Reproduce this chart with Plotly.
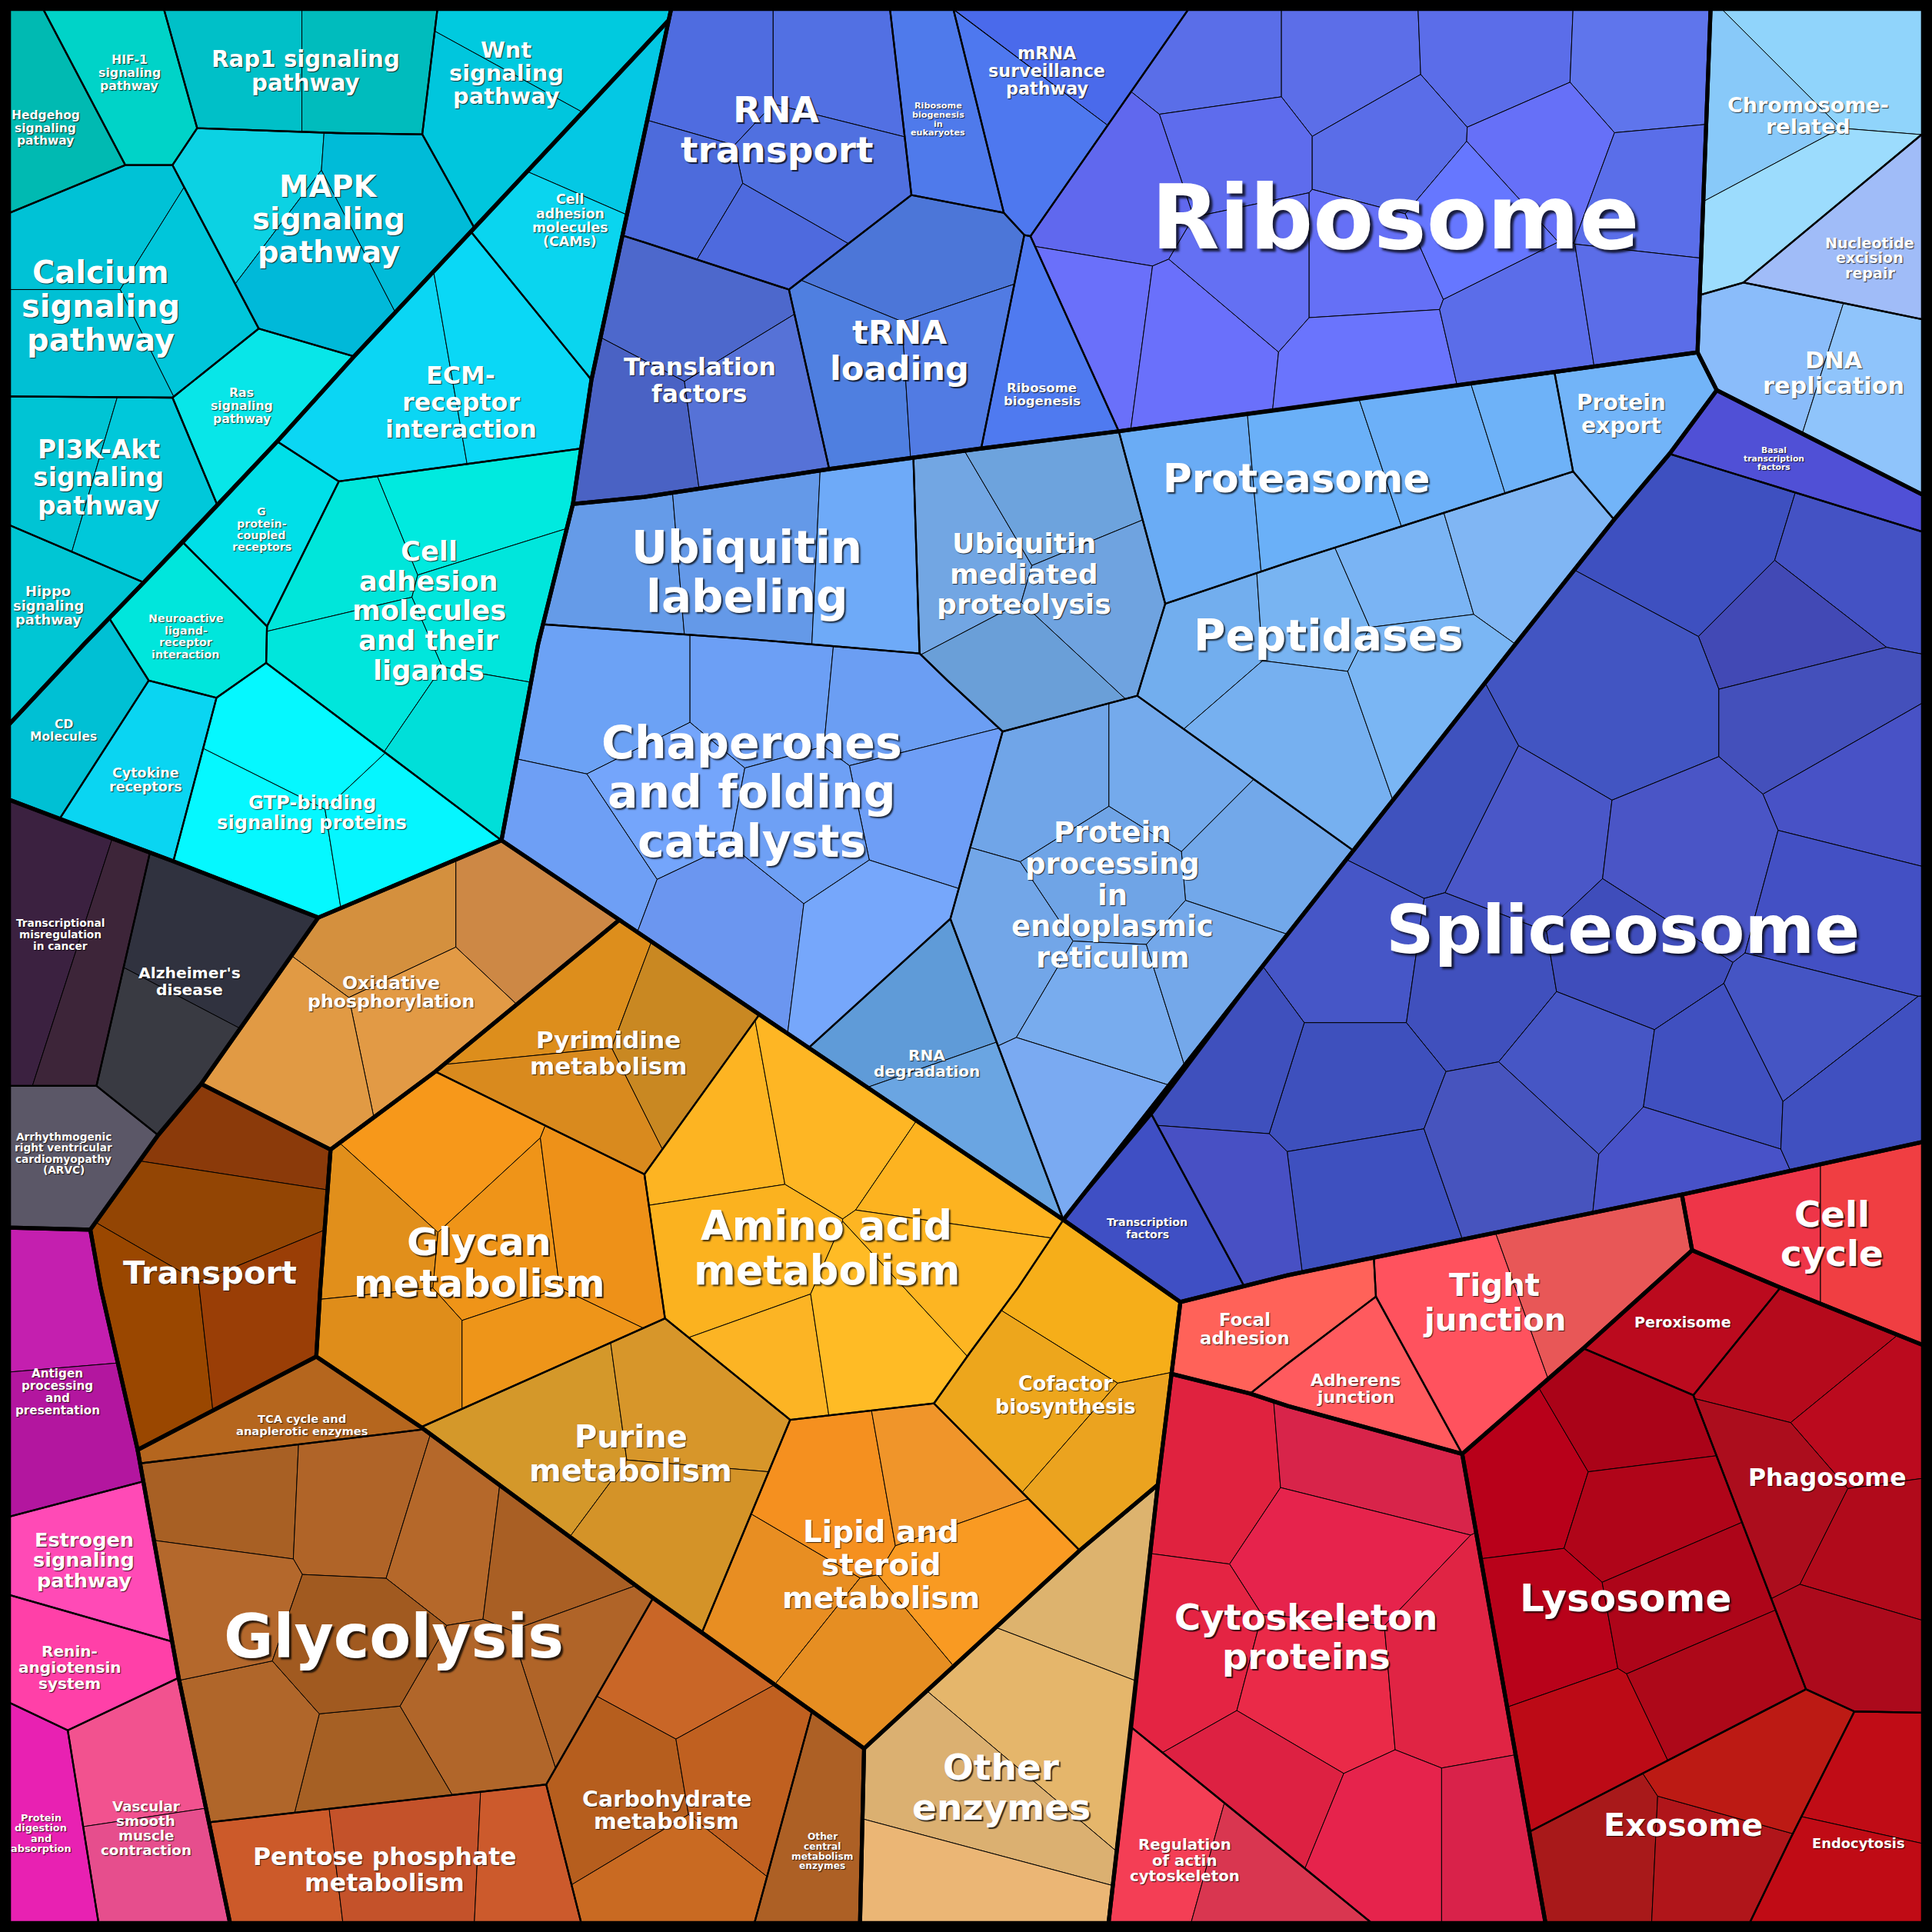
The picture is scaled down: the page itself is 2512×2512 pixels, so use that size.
import plotly.graph_objects as go

L0, L1 = 7.3, 1560.7

# ---------------- regions (polygons in picture units, 0..1568) ----------------
POLYGONS = {
 "Hedgehog": [(L0,L0),(35,L0),(101.7,134),(L0,173)],
 "HIF1": [(35,L0),(133,L0),(160,104),(140,134),(101.7,134)],
 "Rap1": [(133,L0),(355,L0),(342.7,109),(273,108),(160,104)],
 "Wnt": [(355,L0),(544.7,L0),(542.7,16.4),(522.7,38),(385,185),(342.7,109)],
 "MAPK": [(160,104),(273,108),(342.7,109),(385,185),(287.3,289.3),(210,266.7),(140,134)],
 "Calcium": [(L0,173),(101.7,134),(140,134),(210,266.7),(140,322.7),(L0,321.7)],
 "Ras": [(140,322.7),(210,266.7),(287.3,289.3),(225,358.3),(176.4,410)],
 "PI3K": [(L0,321.7),(140,322.7),(176.4,410),(116.7,472.7),(L0,426)],
 "Hippo": [(L0,426),(116.7,472.7),(68.3,522.7),(L0,588)],
 "CAMs": [(542.7,16.4),(506.7,182.7),(480,308.3),(382.2,188),(522.7,38)],
 "ECM": [(382.2,188),(480,308.3),(471.7,364),(275,390.7),(225,358.3),(287.3,289.3)],
 "Gprot": [(225,358.3),(275,390.7),(216.7,508.3),(148.3,440)],
 "Neuro": [(148.3,440),(216.7,508.3),(216,538),(175.7,566.3),(120.7,552.3),(88.6,501.7)],
 "CD": [(L0,588),(68.3,522.7),(88.6,501.7),(120.7,552.3),(48.3,664.7),(L0,649)],
 "Cytokine": [(120.7,552.3),(175.7,566.3),(140.7,699),(48.3,664.7)],
 "GTP": [(175.7,566.3),(216,538),(407,682),(258.3,744.7),(140.7,699)],
 "CellAdh": [(275,390.7),(471.7,364),(465,409),(440.7,506.7),(436.7,523),(407,682),(216,538),(216.7,508.3)],
 "Transcr": [(L0,649),(48.3,664.7),(121.7,691.9),(78.3,881.3),(L0,881.3)],
 "Alz": [(121.7,691.9),(140.7,699),(258.3,744.7),(163.3,879.7),(128.3,921.3),(78.3,881.3)],
 "ARVC": [(L0,881.3),(78.3,881.3),(128.3,921.3),(73.3,998),(L0,996.3)],
 "Antigen": [(L0,996.3),(73.3,998),(81.7,1045),(111.7,1176.7),(113.7,1187.7),(116.3,1202.3),(L0,1231)],
 "Estrogen": [(L0,1231),(116.3,1202.3),(139.7,1332.3),(L0,1294.3)],
 "Renin": [(L0,1294.3),(139.7,1332.3),(145,1361.7),(55,1404.3),(L0,1381.7)],
 "Vascular": [(55,1404.3),(145,1361.7),(186.7,L1),(80,L1)],
 "ProtDig": [(L0,1381.7),(55,1404.3),(80,L1),(L0,L1)],
 "Oxid": [(258.3,744.7),(407,682),(502.7,746.6),(353.3,869.7),(268.3,933),(163.3,879.7)],
 "Transport": [(163.3,879.7),(268.3,933),(260,1045),(256.7,1101),(111.7,1176.7),(81.7,1045),(73.3,998),(128.3,921.3)],
 "Pyrim": [(502.7,746.6),(616.3,823.4),(523,953),(353.3,869.7)],
 "Glycan": [(353.3,869.7),(523,953),(539.7,1070),(341.7,1158.3),(256.7,1101),(260,1045),(268.3,933)],
 "Amino": [(616.3,823.4),(863,990),(826.3,1045),(788,1096.7),(758,1139),(641.3,1152.3),(539.7,1070),(523,953)],
 "Cofactor": [(863,990),(958,1056.7),(939.7,1205),(876.3,1258.3),(758,1139),(788,1096.7),(826.3,1045)],
 "Purine": [(341.7,1158.3),(539.7,1070),(641.3,1152.3),(569.7,1325),(522.7,1291.7)],
 "Lipid": [(641.3,1152.3),(758,1139),(876.3,1258.3),(701.3,1419),(569.7,1325)],
 "OtherEnz": [(939.7,1205),(918,1401.7),(899.7,L1),(698,L1),(701.3,1419),(876.3,1258.3)],
 "TCA": [(111.7,1176.7),(256.7,1101),(341.7,1158.3),(344,1160),(113.7,1187.7)],
 "Glycolysis": [(113.7,1187.7),(344,1160),(530,1297),(443.3,1448.3),(169.6,1479),(145,1361.7)],
 "Pentose": [(169.6,1479),(443.3,1448.3),(471.7,L1),(186.7,L1)],
 "Carb": [(530,1297),(659,1388.9),(612.3,L1),(471.7,L1),(443.3,1448.3)],
 "OtherCentral": [(659,1388.9),(701.3,1419),(698,L1),(612.3,L1)],
 "RNAtr": [(544.7,L0),(722.3,L0),(739.7,158.3),(640.3,235),(523,196.7),(504.9,191),(506.7,182.7)],
 "RibEuk": [(722.3,L0),(773.7,L0),(814.7,172.7),(739.7,158.3)],
 "mRNA": [(773.7,L0),(964.7,L0),(836.3,191.7),(831.3,190.7),(814.7,172.7)],
 "tRNA": [(739.7,158.3),(814.7,172.7),(831.3,190.7),(796.3,364),(673,380.7),(640.3,235)],
 "RibBiog": [(831.3,190.7),(836.3,191.7),(908,350),(796.3,364)],
 "TransFac": [(504.9,191),(523,196.7),(640.3,235),(673,380.7),(523,403.3),(465,409),(480,308.3)],
 "Ribosome": [(964.7,L0),(1388.3,L0),(1377.7,286),(1045,331.7),(908,350),(836.3,191.7)],
 "Chrom": [(1388.3,L0),(L1,L0),(L1,108.3),(1415,229.3),(1380,239.3)],
 "NER": [(L1,108.3),(L1,259.3),(1415,229.3)],
 "DNArep": [(1380,239.3),(1415,229.3),(L1,259.3),(L1,401.7),(1393.3,316.7),(1377.7,286)],
 "ProtExp": [(1261.7,302.7),(1377.7,286),(1393.3,316.7),(1355,368.3),(1310,421.7),(1276.7,382.7)],
 "Proteasome": [(908,350),(1045,331.7),(1261.7,302.7),(1276.7,382.7),(1045,456.7),(945.7,490)],
 "UbMed": [(741.3,371.4),(796.3,364),(908,350),(945.7,490),(923,564.7),(813.7,593.7),(769,552.3),(746.3,530.3)],
 "UbLab": [(465,409),(523,403.3),(673,380.7),(741.3,371.4),(746.3,530.3),(603,518.3),(440.7,506.7)],
 "Chaperones": [(440.7,506.7),(603,518.3),(746.3,530.3),(769,552.3),(813.7,593.7),(771.3,745.7),(656.3,850.4),(407,682),(436.7,523)],
 "RNAdeg": [(771.3,745.7),(863,990),(656.3,850.4)],
 "ProtProc": [(813.7,593.7),(923,564.7),(1098,690),(1045.7,757),(863,990),(771.3,745.7)],
 "Peptidases": [(945.7,490),(1045,456.7),(1276.7,382.7),(1310,421.7),(1230,522.7),(1098,690),(923,564.7)],
 "BasalTF": [(1393.3,316.7),(L1,401.7),(L1,431.7),(1355,368.3)],
 "TF": [(863,990),(934.7,904.7),(1009.7,1043.8),(958,1056.7)],
 "Splice": [(1355,368.3),(L1,431.7),(L1,926.7),(1365,969.5),(1045,1035),(1009.7,1043.8),(934.7,904.7),(1045.7,757),(1230,522.7),(1310,421.7)],
 "Focal": [(958,1056.7),(1009.7,1043.8),(1045,1035),(1115,1020.7),(1116.7,1052.3),(1045,1106.7),(1014.7,1131),(950.8,1115)],
 "Adherens": [(1014.7,1131),(1045,1106.7),(1116.7,1052.3),(1186.7,1180),(1045,1141)],
 "Tight": [(1115,1020.7),(1365,969.5),(1373.3,1014.7),(1285,1094.3),(1186.7,1180),(1116.7,1052.3)],
 "CellCycle": [(1365,969.5),(L1,926.7),(L1,1091.7),(1445,1045),(1373.3,1014.7)],
 "Peroxisome": [(1373.3,1014.7),(1445,1045),(1374.3,1132.3),(1285,1094.3)],
 "Phagosome": [(1374.3,1132.3),(1445,1045),(L1,1091.7),(L1,1390),(1505,1389),(1465.7,1371)],
 "Lysosome": [(1186.7,1180),(1285,1094.3),(1374.3,1132.3),(1465.7,1371),(1241.2,1486.7)],
 "Exosome": [(1241.2,1486.7),(1465.7,1371),(1505,1389),(1453.3,1491.7),(1420,L1),(1254.3,L1)],
 "Endocytosis": [(1505,1389),(L1,1390),(L1,L1),(1420,L1),(1453.3,1491.7)],
 "Cytoskel": [(950.8,1115),(1014.7,1131),(1045,1141),(1186.7,1180),(1241.2,1486.7),(1254.3,L1),(1113.3,L1),(1045.3,1505),(918,1401.7),(939.7,1205)],
 "RegActin": [(918,1401.7),(1045.3,1505),(1113.3,L1),(899.7,L1)],
}

# ---------------- sub-cells: seed points and fill colours ----------------
SEEDS = {
 "Hedgehog": [(40,100,"#00bab2")],
 "HIF1": [(110,60,"#00d3c8")],
 "Rap1": [(185,55,"#00c0c8"),(305,55,"#00bcbd")],
 "Wnt": [(455,28,"#00cadf"),(410,110,"#00c6dd")],
 "MAPK": [(187,167,"#0cd2e3"),(253,217,"#00b9d9"),(330,177,"#00bbd8")],
 "Calcium": [(70,190,"#00c2d6"),(150,240,"#00c6da"),(70,280,"#00c0d4")],
 "Ras": [(200,345,"#08e6e8")],
 "PI3K": [(35,370,"#00c4d4"),(120,395,"#00c8da")],
 "Hippo": [(45,490,"#00c6d4")],
 "CAMs": [(495,100,"#04c8e4"),(445,215,"#0ad5ef")],
 "ECM": [(310,320,"#0bd6f4"),(425,300,"#0ad8f6")],
 "Gprot": [(215,440,"#00dfe8")],
 "Neuro": [(165,510,"#00e6dc")],
 "CD": [(50,600,"#00c0d4")],
 "Cytokine": [(120,630,"#0ad5f2")],
 "GTP": [(255,590,"#05f8ff"),(205,690,"#05f8ff"),(330,670,"#05f6ff")],
 "CellAdh": [(380,410,"#00eadf"),(270,455,"#00e6da"),(405,490,"#00e6dc"),(290,540,"#00e6dc"),(385,605,"#00dfd9")],
 "Transcr": [(28,770,"#3b2140"),(90,790,"#3d2539")],
 "Alz": [(180,760,"#30323f"),(125,865,"#393a42")],
 "ARVC": [(60,940,"#5b5767")],
 "Antigen": [(45,1050,"#c41faf"),(55,1170,"#b3169f")],
 "Estrogen": [(65,1265,"#ff4ab6")],
 "Renin": [(70,1350,"#ff40a8")],
 "Vascular": [(110,1425,"#f2528f"),(125,1525,"#e64e8d")],
 "ProtDig": [(35,1470,"#e821b2")],
 "Oxid": [(310,745,"#d4903e"),(430,745,"#cd8845"),(350,830,"#e29a45"),(230,855,"#e19a44")],
 "Transport": [(185,920,"#8b3a0a"),(175,985,"#934504"),(120,1080,"#9a4700"),(210,1070,"#9a3e06")],
 "Pyrim": [(445,805,"#dd8e1c"),(455,905,"#d98a1e"),(565,850,"#c98822")],
 "Glycan": [(350,945,"#f7981a"),(300,1000,"#e18f1b"),(410,1010,"#ef9418"),(488,1000,"#ee9118"),(310,1100,"#df8d1a"),(440,1100,"#ee9519")],
 "Amino": [(570,905,"#fdb422"),(680,885,"#feb624"),(790,960,"#fdb320"),(590,1035,"#fbb21f"),(615,1105,"#fcb424"),(715,1090,"#ffbb25"),(780,1030,"#fdb522")],
 "Cofactor": [(880,1050,"#f6ae19"),(830,1130,"#eda61c"),(910,1200,"#eba31f")],
 "Purine": [(430,1150,"#d4982a"),(575,1130,"#d7962a"),(565,1250,"#d49328")],
 "Lipid": [(675,1210,"#f5901f"),(760,1195,"#f0952a"),(790,1280,"#f99a22"),(625,1295,"#e88e22"),(700,1355,"#e68e22")],
 "OtherEnz": [(885,1290,"#ddb36e"),(845,1395,"#e5b66b"),(790,1460,"#dbb071"),(770,1535,"#ebb675")],
 "TCA": [(225,1150,"#b5661e")],
 "Glycolysis": [(185,1220,"#a86024"),(295,1225,"#b06428"),(360,1245,"#b5682a"),(440,1255,"#a95f24"),(478,1360,"#b06428"),(385,1390,"#b1662a"),(300,1440,"#a66024"),(200,1415,"#b0662a"),(175,1295,"#b4682c"),(290,1335,"#a15a20")],
 "Pentose": [(210,1520,"#cc5a2a"),(335,1505,"#c4522a"),(440,1510,"#cc5a2c")],
 "Carb": [(560,1340,"#c96627"),(495,1460,"#b65e1e"),(615,1440,"#c06020"),(540,1535,"#c96a22")],
 "OtherCentral": [(655,1480,"#ad6025")],
 "RNAtr": [(575,55,"#4f6ce0"),(680,55,"#5270e3"),(660,135,"#5070e0"),(545,160,"#4d6bdc"),(620,205,"#4e6ade")],
 "RibEuk": [(777,85,"#4f7aeb")],
 "mRNA": [(900,40,"#4a6aeb"),(840,120,"#4e78ef")],
 "tRNA": [(740,200,"#4c76d8"),(695,310,"#4f7fe0"),(775,305,"#517be3")],
 "TransFac": [(560,245,"#4d68cc"),(505,350,"#4a62c4"),(615,335,"#5672d7")],
 "RibBiog": [(855,290,"#4f7af0")],
 "Ribosome": [(990,50,"#5a6ee8"),(1090,50,"#5c6ee8"),(1215,45,"#5b6de9"),(1335,50,"#5f75ec"),(1000,120,"#5e6ced"),(910,150,"#6068ee"),(1130,120,"#5a6de8"),(1250,125,"#6670f8"),(1345,160,"#5a6ee9"),(1195,175,"#6677ff"),(890,270,"#6a70fa"),(965,280,"#6a70fb"),(1020,215,"#6470f3"),(1105,215,"#6570f6"),(1110,295,"#6a74fd"),(1240,265,"#5b6de9"),(1335,250,"#5b6de8")],
 "Chrom": [(1480,40,"#90d4fb"),(1430,90,"#88c9f9"),(1470,165,"#9cdcfd")],
 "NER": [(1525,200,"#a0bcf8")],
 "DNArep": [(1430,290,"#8abcfa"),(1525,320,"#8fc4fb")],
 "ProtExp": [(1310,350,"#72b4f8")],
 "Proteasome": [(960,400,"#6aacf5"),(1075,390,"#6ab0f8"),(1165,360,"#6cb0f8"),(1245,335,"#6eb2f8")],
 "UbMed": [(775,450,"#72a6e3"),(860,400,"#6da3dd"),(895,485,"#6fa3e0"),(830,555,"#6a9fd8")],
 "UbLab": [(490,455,"#659be8"),(610,445,"#6499e8"),(715,450,"#6eaaf8")],
 "Chaperones": [(500,560,"#6ca2f5"),(620,560,"#6c9ff5"),(725,570,"#6b9ef3"),(745,650,"#6e9ef6"),(545,650,"#74a5fb"),(470,700,"#6e9ff5"),(590,745,"#6b96f0"),(650,670,"#6ea0f5"),(710,760,"#76a7fb")],
 "RNAdeg": [(765,805,"#5f9bd8"),(800,905,"#6aa5e2")],
 "ProtProc": [(850,630,"#70a5e8"),(950,630,"#74aaec"),(1020,700,"#72a8ea"),(900,710,"#6fa4e6"),(810,770,"#72a6e8"),(895,820,"#78acee"),(990,790,"#74a8ea"),(870,900,"#7aaaf2")],
 "Peptidases": [(985,505,"#72aeee"),(1060,500,"#78b4f2"),(1140,465,"#7ab4f4"),(1225,440,"#80b6f4"),(1050,580,"#76b0f0"),(1150,545,"#7ab6f4")],
 "BasalTF": [(1455,380,"#5050d6")],
 "TF": [(945,1010,"#3f4fc4")],
 "Splice": [(1385,430,"#3e50c0"),(1500,465,"#4452c4"),(1465,510,"#4249b5"),(1310,570,"#4255c2"),(1480,570,"#4450bb"),(1520,640,"#4852c6"),(1240,690,"#4a57c8"),(1365,705,"#4a55c6"),(1495,740,"#4350c4"),(1160,650,"#3f52be"),(1095,780,"#4656c7"),(1200,795,"#4050bd"),(1320,775,"#3f4dbb"),(1470,840,"#4555c4"),(1285,865,"#4656c5"),(1390,880,"#4050c0"),(1095,880,"#3e50bd"),(1110,970,"#3e50bf"),(1225,930,"#4754be"),(1370,945,"#4852c8"),(1505,885,"#4050c0"),(1000,850,"#3f50bd"),(990,985,"#4850c4")],
 "Focal": [(1010,1080,"#ff6259")],
 "Adherens": [(1100,1130,"#ff5a5e")],
 "Tight": [(1170,1075,"#ff525e"),(1295,1030,"#e85757")],
 "CellCycle": [(1430,1000,"#ee3548"),(1525,1000,"#f03e42")],
 "Peroxisome": [(1365,1075,"#bb0a1e")],
 "Phagosome": [(1470,1095,"#b50a1c"),(1515,1150,"#bb0a1e"),(1440,1215,"#ac0d1d"),(1530,1260,"#b10a1b"),(1505,1345,"#ac0a1c")],
 "Lysosome": [(1235,1200,"#b8001a"),(1320,1150,"#aa0318"),(1330,1230,"#b00519"),(1250,1320,"#b8021a"),(1360,1300,"#ad0519"),(1285,1420,"#bc0a16"),(1390,1370,"#ad0819")],
 "Exosome": [(1290,1515,"#a8191a"),(1395,1520,"#b0151a"),(1420,1430,"#bc1a14")],
 "Endocytosis": [(1520,1440,"#c00c16"),(1500,1530,"#c00b15")],
 "Cytoskel": [(975,1190,"#e0223f"),(1100,1180,"#d8244a"),(1080,1260,"#e6234c"),(955,1340,"#e42443"),(1070,1370,"#ea2a48"),(1185,1360,"#e02444"),(1020,1455,"#dd2142"),(1130,1500,"#e6234c"),(1210,1500,"#d9224a")],
 "RegActin": [(935,1500,"#f43e55"),(1025,1525,"#d93650")],
}

# ---------------- higher-level groups (thick outlines) ----------------
GROUPS = [
 [(L0,L0),(544.7,L0),(542.7,16.4),(522.7,38),(385,185),(382.2,188),(287.3,289.3),(225,358.3),(176.4,410),(148.3,440),(116.7,472.7),(88.6,501.7),(68.3,522.7),(L0,588)],
 [(542.7,16.4),(506.7,182.7),(480,308.3),(471.7,364),(465,409),(440.7,506.7),(436.7,523),(407,682),(258.3,744.7),(140.7,699),(121.7,691.9),(48.3,664.7),(L0,649),(L0,588),(68.3,522.7),(148.3,440),(225,358.3),(287.3,289.3),(382.2,188),(522.7,38)],
 [(L0,649),(48.3,664.7),(121.7,691.9),(140.7,699),(258.3,744.7),(163.3,879.7),(128.3,921.3),(73.3,998),(L0,996.3)],
 [(L0,996.3),(73.3,998),(81.7,1045),(111.7,1176.7),(145,1361.7),(186.7,L1),(L0,L1)],
 POLYGONS["Oxid"], POLYGONS["Transport"], POLYGONS["OtherEnz"], POLYGONS["CellCycle"],
 [(502.7,746.6),(616.3,823.4),(863,990),(958,1056.7),(939.7,1205),(876.3,1258.3),(701.3,1419),(569.7,1325),(522.7,1291.7),(341.7,1158.3),(256.7,1101),(260,1045),(268.3,933),(353.3,869.7)],
 [(111.7,1176.7),(256.7,1101),(341.7,1158.3),(522.7,1291.7),(701.3,1419),(698,L1),(186.7,L1),(145,1361.7)],
 [(544.7,L0),(1388.3,L0),(1377.7,286),(1045,331.7),(908,350),(796.3,364),(673,380.7),(523,403.3),(465,409),(480,308.3),(506.7,182.7)],
 [(1388.3,L0),(L1,L0),(L1,401.7),(1393.3,316.7),(1377.7,286)],
 [(465,409),(523,403.3),(673,380.7),(796.3,364),(908,350),(1045,331.7),(1377.7,286),(1393.3,316.7),(1355,368.3),(1310,421.7),(1230,522.7),(1045.7,757),(863,990),(407,682),(436.7,523)],
 [(1393.3,316.7),(L1,401.7),(L1,926.7),(1365,969.5),(1045,1035),(958,1056.7),(863,990),(1045.7,757),(1230,522.7),(1310,421.7),(1355,368.3)],
 [(958,1056.7),(1045,1035),(1365,969.5),(1373.3,1014.7),(1285,1094.3),(1186.7,1180),(1045,1141),(1014.7,1131),(950.8,1115)],
 [(950.8,1115),(1014.7,1131),(1045,1141),(1186.7,1180),(1254.3,L1),(899.7,L1),(918,1401.7),(939.7,1205)],
 [(1186.7,1180),(1285,1094.3),(1373.3,1014.7),(1445,1045),(L1,1091.7),(L1,L1),(1254.3,L1)],
]

# ---------------- labels: lines, centre x, centre y, font px, line step ----------------
LABELS = {
 "Hedgehog": (["Hedgehog","signaling","pathway"], 37, 104, 15.5, 10),
 "HIF1": (["HIF-1","signaling","pathway"], 105, 59, 15.8, 10.7),
 "Rap1": (["Rap1 signaling","pathway"], 248, 57.8, 29.3, 19),
 "Wnt": (["Wnt","signaling","pathway"], 411, 59.3, 28.9, 18.3),
 "MAPK": (["MAPK","signaling","pathway"], 266.7, 177.8, 38.6, 25.8),
 "Calcium": (["Calcium","signaling","pathway"], 81.7, 248.6, 40, 26.2),
 "PI3K": (["PI3K-Akt","signaling","pathway"], 80, 387.6, 33, 20.8),
 "Ras": (["Ras","signaling","pathway"], 196, 329.3, 15.7, 10.8),
 "Hippo": (["Hippo","signaling","pathway"], 39.3, 491.3, 17.9, 11.3),
 "CAMs": (["Cell","adhesion","molecules","(CAMs)"], 462.7, 178.9, 17.4, 11.1),
 "ECM": (["ECM-","receptor","interaction"], 374, 326.4, 31.8, 20.3),
 "Gprot": (["G","protein-","coupled","receptors"], 212.3, 429.6, 14.3, 9.5),
 "Neuro": (["Neuroactive","ligand-","receptor","interaction"], 151, 516.5, 14.3, 9.8),
 "CellAdh": (["Cell","adhesion","molecules","and their","ligands"], 348.3, 495.6, 35.3, 22.4),
 "CD": (["CD","Molecules"], 51.7, 593, 15.5, 10),
 "Cytokine": (["Cytokine","receptors"], 118.3, 632.8, 17.5, 11),
 "GTP": (["GTP-binding","signaling proteins"], 253.3, 659.8, 24.2, 15),
 "Transcr": (["Transcriptional","misregulation","in cancer"], 49.3, 758.3, 13.7, 9.33),
 "Alz": (["Alzheimer's","disease"], 154, 796.4, 20.3, 13.3),
 "ARVC": (["Arrhythmogenic","right ventricular","cardiomyopathy","(ARVC)"], 51.7, 936, 13.7, 8.9),
 "Antigen": (["Antigen","processing","and","presentation"], 46.7, 1129.7, 15.2, 10),
 "Estrogen": (["Estrogen","signaling","pathway"], 68.3, 1266.1, 25.6, 16.2),
 "Renin": (["Renin-","angiotensin","system"], 56.7, 1353.3, 20.1, 12.7),
 "Vascular": (["Vascular","smooth","muscle","contraction"], 118.3, 1484, 18.3, 11.5),
 "ProtDig": (["Protein","digestion","and","absorption"], 33.3, 1487.8, 12.9, 8.3),
 "Oxid": (["Oxidative","phosphorylation"], 317.7, 805.2, 23.6, 14.3),
 "Transport": (["Transport"], 170.3, 1033, 41.7, 0),
 "Pyrim": (["Pyrimidine","metabolism"], 494, 854.4, 31, 19.3),
 "Glycan": (["Glycan","metabolism"], 389, 1025, 49.5, 32),
 "Amino": (["Amino acid","metabolism"], 671, 1013, 52.5, 34),
 "Purine": (["Purine","metabolism"], 512, 1180, 40, 26),
 "Lipid": (["Lipid and","steroid","metabolism"], 715.3, 1269.7, 39, 25),
 "Cofactor": (["Cofactor","biosynthesis"], 864.7, 1132.2, 25.7, 19),
 "TCA": (["TCA cycle and","anaplerotic enzymes"], 245, 1156.4, 14.7, 9.3),
 "Glycolysis": (["Glycolysis"], 319.7, 1328.3, 78.6, 0),
 "Pentose": (["Pentose phosphate","metabolism"], 312.3, 1517.5, 31.5, 19.6),
 "Carb": (["Carbohydrate","metabolism"], 541, 1469, 28.6, 18),
 "OtherCentral": (["Other","central","metabolism","enzymes"], 667.3, 1502.6, 12.2, 7.8),
 "OtherEnz": (["Other","enzymes"], 813, 1450.4, 47, 30.7),
 "RNAtr": (["RNA","transport"], 630.3, 105, 47, 30),
 "RibEuk": (["Ribosome","biogenesis","in","eukaryotes"], 761.3, 97, 11.2, 7.1),
 "mRNA": (["mRNA","surveillance","pathway"], 849.7, 57.6, 22.3, 14.2),
 "tRNA": (["tRNA","loading"], 730.3, 284.2, 43.2, 28.3),
 "TransFac": (["Translation","factors"], 568, 308.5, 31.5, 20),
 "RibBiog": (["Ribosome","biogenesis"], 845.7, 320.4, 16.5, 10.7),
 "Ribosome": (["Ribosome"], 1132.5, 176.7, 115, 0),
 "Chrom": (["Chromosome-","related"], 1467.7, 93.7, 27, 16),
 "NER": (["Nucleotide","excision","repair"], 1517.7, 209.7, 19.1, 12.2),
 "DNArep": (["DNA","replication"], 1488.3, 302.7, 30.4, 20),
 "ProtExp": (["Protein","export"], 1316, 336.2, 28.1, 17.7),
 "BasalTF": (["Basal","transcription","factors"], 1440, 372.3, 10.8, 6.7),
 "Proteasome": (["Proteasome"], 1052, 388, 51.5, 0),
 "UbLab": (["Ubiquitin","labeling"], 606, 464.5, 58, 38.3),
 "UbMed": (["Ubiquitin","mediated","proteolysis"], 831.3, 465.7, 36.2, 23.3),
 "Peptidases": (["Peptidases"], 1078, 516, 56.5, 0),
 "Chaperones": (["Chaperones","and folding","catalysts"], 610, 643, 58.5, 38),
 "RNAdeg": (["RNA","degradation"], 752, 863, 20.1, 13.4),
 "ProtProc": (["Protein","processing","in","endoplasmic","reticulum"], 903, 726.7, 37, 23.7),
 "Splice": (["Spliceosome"], 1317, 754.7, 87, 0),
 "TF": (["Transcription","factors"], 931.3, 996.8, 14.2, 9.7),
 "Focal": (["Focal","adhesion"], 1010, 1078.7, 22.8, 14),
 "Adherens": (["Adherens","junction"], 1100, 1127, 21.9, 14),
 "Tight": (["Tight","junction"], 1213, 1057.5, 40.3, 26),
 "CellCycle": (["Cell","cycle"], 1486.7, 1001.5, 46.8, 30),
 "Peroxisome": (["Peroxisome"], 1365.7, 1073.3, 19.1, 0),
 "Phagosome": (["Phagosome"], 1483.3, 1199, 31.5, 0),
 "Lysosome": (["Lysosome"], 1319, 1297.3, 50, 0),
 "Exosome": (["Exosome"], 1366.3, 1481, 41.3, 0),
 "Endocytosis": (["Endocytosis"], 1508.3, 1496, 17.9, 0),
 "Cytoskel": (["Cytoskeleton","proteins"], 1060, 1328.5, 46.5, 31),
 "RegActin": (["Regulation","of actin","cytoskeleton"], 961.3, 1510.2, 19.8, 12.5),
}

PX_PER_UNIT = 2512 / 1568

# ---------------- helpers ----------------
def clip(poly, nx, ny, c):
    out = []
    n = len(poly)
    for i in range(n):
        P, Q = poly[i], poly[(i + 1) % n]
        dp = nx * P[0] + ny * P[1] - c
        dq = nx * Q[0] + ny * Q[1] - c
        if dp <= 0:
            out.append(P)
        if (dp < 0 < dq) or (dq < 0 < dp):
            t = dp / (dp - dq)
            out.append((P[0] + t * (Q[0] - P[0]), P[1] + t * (Q[1] - P[1])))
    return out

def voronoi_cells(poly, seeds):
    cells = []
    for i, (sx, sy, col) in enumerate(seeds):
        cell = list(poly)
        for j, (tx, ty, _) in enumerate(seeds):
            if i == j:
                continue
            cell = clip(cell, 2 * (tx - sx), 2 * (ty - sy), tx * tx + ty * ty - sx * sx - sy * sy)
            if not cell:
                break
        if cell:
            cells.append((cell, col))
    return cells

def closed_xy(pts):
    xs = [p[0] for p in pts] + [pts[0][0]]
    ys = [p[1] for p in pts] + [pts[0][1]]
    return xs, ys

fig = go.Figure()

for name, poly in POLYGONS.items():
    for cell, col in voronoi_cells(poly, SEEDS[name]):
        xs, ys = closed_xy(cell)
        fig.add_trace(go.Scatter(x=xs, y=ys, mode="lines", fill="toself", fillcolor=col,
                                 line=dict(color="black", width=1.0), hoverinfo="skip",
                                 showlegend=False))

rx, ry = [], []
for poly in POLYGONS.values():
    xs, ys = closed_xy(poly)
    rx += xs + [None]
    ry += ys + [None]
fig.add_trace(go.Scatter(x=rx, y=ry, mode="lines", line=dict(color="black", width=2.3),
                         hoverinfo="skip", showlegend=False))

gx, gy = [], []
for poly in GROUPS:
    xs, ys = closed_xy(poly)
    gx += xs + [None]
    gy += ys + [None]
fig.add_trace(go.Scatter(x=gx, y=gy, mode="lines", line=dict(color="black", width=5.2),
                         hoverinfo="skip", showlegend=False))

annotations = []
for name, (lines, cx, cy, fs, step) in LABELS.items():
    n = len(lines)
    factor = 1.04 if fs < 30 else 1.1
    step = max(step, factor * fs / PX_PER_UNIT)
    off = max(1, round(fs * 0.035))
    blur = max(1, round(fs * 0.03))
    for k, line in enumerate(lines):
        y = cy + (k - (n - 1) / 2) * step
        annotations.append(dict(
            x=cx, y=y, xref="x", yref="y", text=line, showarrow=False,
            xanchor="center", yanchor="middle",
            font=dict(family="DejaVu Sans", size=fs, color="white", weight="bold",
                      shadow=f"{off}px {off}px {blur}px rgba(0,0,0,0.75)")))

fig.update_layout(
    width=2512, height=2512, margin=dict(l=0, r=0, t=0, b=0),
    paper_bgcolor="black", plot_bgcolor="black", showlegend=False,
    xaxis=dict(range=[0, 1568], visible=False, fixedrange=True),
    yaxis=dict(range=[1568, 0], visible=False, fixedrange=True),
    annotations=annotations,
)

fig.write_html("out.html")
